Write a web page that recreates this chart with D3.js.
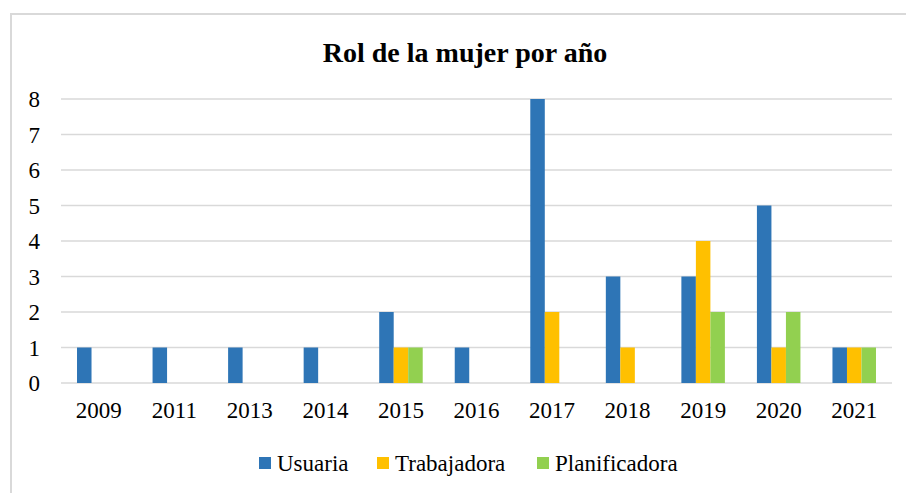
<!DOCTYPE html>
<html>
  <head>
    <meta charset="UTF-8">
    <title>Rol de la mujer por año</title>
    <script src="https://d3js.org/d3.v7.min.js"></script>
  </head>
  <body style="margin:0">
    <svg id="chart" width="906" height="493"></svg>
    <script>
      // datos
      const years = ["2009", "2011", "2013", "2014", "2015", "2016", "2017", "2018", "2019", "2020", "2021"];
      const seriesNames = ["Usuaria", "Trabajadora", "Planificadora"];
      const usuaria = [1, 1, 1, 1, 2, 1, 8, 3, 3, 5, 1];
      const trabajadora = [0, 0, 0, 0, 1, 0, 2, 1, 4, 1, 1];
      const planificadora = [0, 0, 0, 0, 1, 0, 0, 0, 2, 2, 1];
      const yTicks = [0, 1, 2, 3, 4, 5, 6, 7, 8];
      const colors = ["#2e75b6", "#ffc000", "#92d050"];

      const fontFam = "Liberation Serif";
      const width = 906;
      const height = 493;

      const svg = d3.select("#chart");

      // marco del gráfico
      svg.append("rect")
        .attr("x", 11)
        .attr("y", 14)
        .attr("width", width + 10)
        .attr("height", height + 10)
        .attr("fill", "none")
        .attr("stroke", "#d9d9d9")
        .attr("stroke-width", 2);

      svg.append("text")
        .attr("x", 465)
        .attr("y", 62)
        .attr("text-anchor", "middle")
        .style("font-family", fontFam)
        .style("font-size", "28px")
        .style("font-weight", "bold")
        .text("Rol de la mujer por año");

      const x = d3.scaleBand()
        .domain(years)
        .range([61, 892])
        .paddingInner(0.424)
        .paddingOuter(0.212);

      const x1 = d3.scaleBand()
        .domain(seriesNames)
        .range([0, x.bandwidth()]);

      const y = d3.scaleLinear()
        .domain([0, 8])
        .range([383, 99]);

      // líneas de cuadrícula
      svg.append("g")
        .selectAll("line")
        .data(yTicks)
        .enter()
        .append("line")
        .attr("x1", 61)
        .attr("x2", 892)
        .attr("y1", d => y(d))
        .attr("y2", d => y(d))
        .attr("stroke", "#d9d9d9")
        .attr("stroke-width", 1.5);

      // eje Y
      const yAxis = svg.append("g")
        .attr("transform", "translate(46,0)")
        .call(d3.axisLeft(y).tickValues(yTicks).tickSize(0).tickPadding(0).tickFormat(d3.format("d")));
      yAxis.attr("font-family", null).attr("font-size", null);
      yAxis.select(".domain").remove();
      yAxis.selectAll("text")
        .style("font-family", fontFam)
        .style("font-size", "23px")
        .attr("fill", "#000")
        .attr("dy", "0.33em")
        .attr("x", -6);

      // eje X
      const xAxis = svg.append("g")
        .attr("transform", "translate(0,383)")
        .call(d3.axisBottom(x).tickSize(0).tickPadding(0));
      xAxis.attr("font-family", null).attr("font-size", null);
      xAxis.select(".domain").remove();
      xAxis.selectAll("text")
        .style("font-family", fontFam)
        .style("font-size", "23px")
        .attr("fill", "#000")
        .attr("y", 19);

      const data = [usuaria, trabajadora, planificadora];
      const rows = years.map((yr, i) => ({
        year: yr,
        values: seriesNames.map((s, j) => ({ name: s, value: data[j][i], color: colors[j] }))
      }));

      const groups = svg.append("g")
        .selectAll("g")
        .data(rows)
        .enter()
        .append("g")
        .attr("transform", d => `translate(${x(d.year)},0)`);

      groups.selectAll("rect")
        .data(d => d.values.filter(v => v.value > 0))
        .enter()
        .append("rect")
        .attr("x", d => x1(d.name))
        .attr("y", d => y(d.value))
        .attr("width", x1.bandwidth())
        .attr("height", d => y(0) - y(d.value))
        .attr("fill", d => d.color);

      // leyenda
      const legendX = [259, 377, 537];
      const legend = svg.append("g")
        .selectAll("g")
        .data(seriesNames)
        .enter()
        .append("g")
        .attr("transform", (d, i) => `translate(${legendX[i]},457)`);

      legend.append("rect")
        .attr("width", 12)
        .attr("height", 12)
        .attr("fill", (d, i) => colors[i]);

      legend.append("text")
        .attr("x", 18)
        .attr("y", 14)
        .style("font-family", fontFam)
        .style("font-size", "23px")
        .attr("fill", "#000")
        .text(d => d);
    </script>
  </body>
</html>
